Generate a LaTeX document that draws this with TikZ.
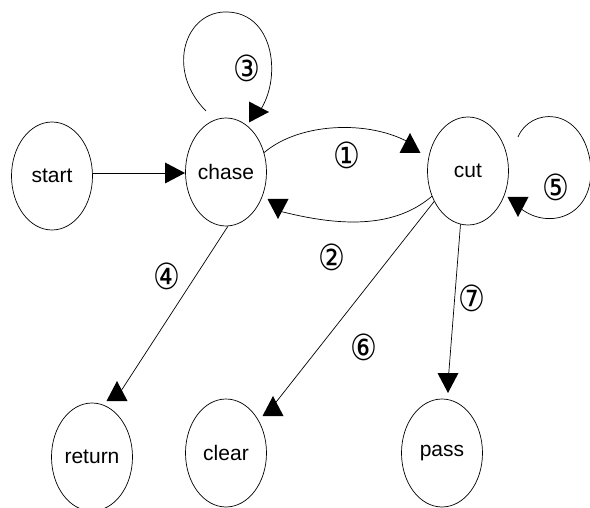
\documentclass[tikz,border=0pt]{standalone}
\usepackage{fontspec}
\setmainfont{Liberation Sans}
\newfontfamily\circfont{DejaVu Sans}
\usetikzlibrary{shapes.geometric}
\tikzset{
  state/.style={draw, ellipse, minimum width=81pt, minimum height=108pt, inner sep=0pt, line width=0.7pt, font=\fontsize{21}{21}\selectfont},
  conn/.style={line width=0.7pt},
  lab/.style={inner sep=0pt, font=\circfont\fontsize{30}{30}\selectfont}
}
% arrowhead drawn as a filled triangle centred on a named coordinate
\newcommand{\arrowtri}[2]{\fill[shift={(#1)}, rotate=#2] (10,0) -- (-10,10.5) -- (-10,-10.5) -- cycle;}
\newcommand{\tallnum}[1]{\scalebox{1}[1.2]{#1}}
\begin{document}
\begin{tikzpicture}[x=1pt,y=-1pt]
\useasboundingbox (0,0) rectangle (590,508);
% states
\node[state] (start) at (52,176) {start};
\node[state] (chase) at (226,172) {chase};
\node[state] (cut) at (468,171) {cut};
\node[state] (return) at (92,457) {return};
\node[state] (clear) at (226,453) {clear};
\node[state] (pass) at (442,453) {pass};
% arrow heads (centres)
\coordinate (t0) at (175,173);
\coordinate (t3) at (259,112);
\coordinate (t1) at (410,143);
\coordinate (t2) at (278,209);
\coordinate (t5) at (518,207);
\coordinate (t4) at (117,391);
\coordinate (t6) at (273,406);
\coordinate (t7) at (448,383);
% connector ends inside arrowheads
\coordinate (t2e) at (279,211);
\coordinate (t5e) at (520,208);
\coordinate (t4e) at (121,391);
% free loop ends
\coordinate (l3s) at (206,111);
\coordinate (l5s) at (518,137);
% connectors
\draw[conn] (start.east |- t0) -- (t0);
\draw[conn] (l3s) .. controls (165,70) and (185,10) .. (228,12) .. controls (275,14) and (282,80) .. (t3);
\draw[conn] (chase.27) .. controls (300,122) and (370,120) .. (t1);
\draw[conn] (cut.215) .. controls (390,232) and (330,224) .. (t2e);
\draw[conn] (l5s) .. controls (530,108) and (580,105) .. (590,160) .. controls (598,215) and (550,232) .. (t5e);
\draw[conn] (chase.272) -- (t4e);
\draw[conn] (cut.222) -- (t6);
\draw[conn] (cut.262) -- (t7);
% arrowheads
\arrowtri{t0}{0}
\arrowtri{t3}{0}
\arrowtri{t1}{90}
\arrowtri{t2}{-90}
\arrowtri{t5}{-90}
\arrowtri{t4}{90}
\arrowtri{t6}{90}
\arrowtri{t7}{-90}
% labels
\node[lab] (n1) at (347,155) {\tallnum{①}};
\node[lab] (n2) at (332,257) {\tallnum{②}};
\node[lab] (n3) at (247,68) {\tallnum{③}};
\node[lab] (n4) at (167,276) {\tallnum{④}};
\node[lab] (n5) at (556,187) {\tallnum{⑤}};
\node[lab] (n6) at (364,347) {\tallnum{⑥}};
\node[lab] (n7) at (472,298) {\tallnum{⑦}};
\end{tikzpicture}
\end{document}
